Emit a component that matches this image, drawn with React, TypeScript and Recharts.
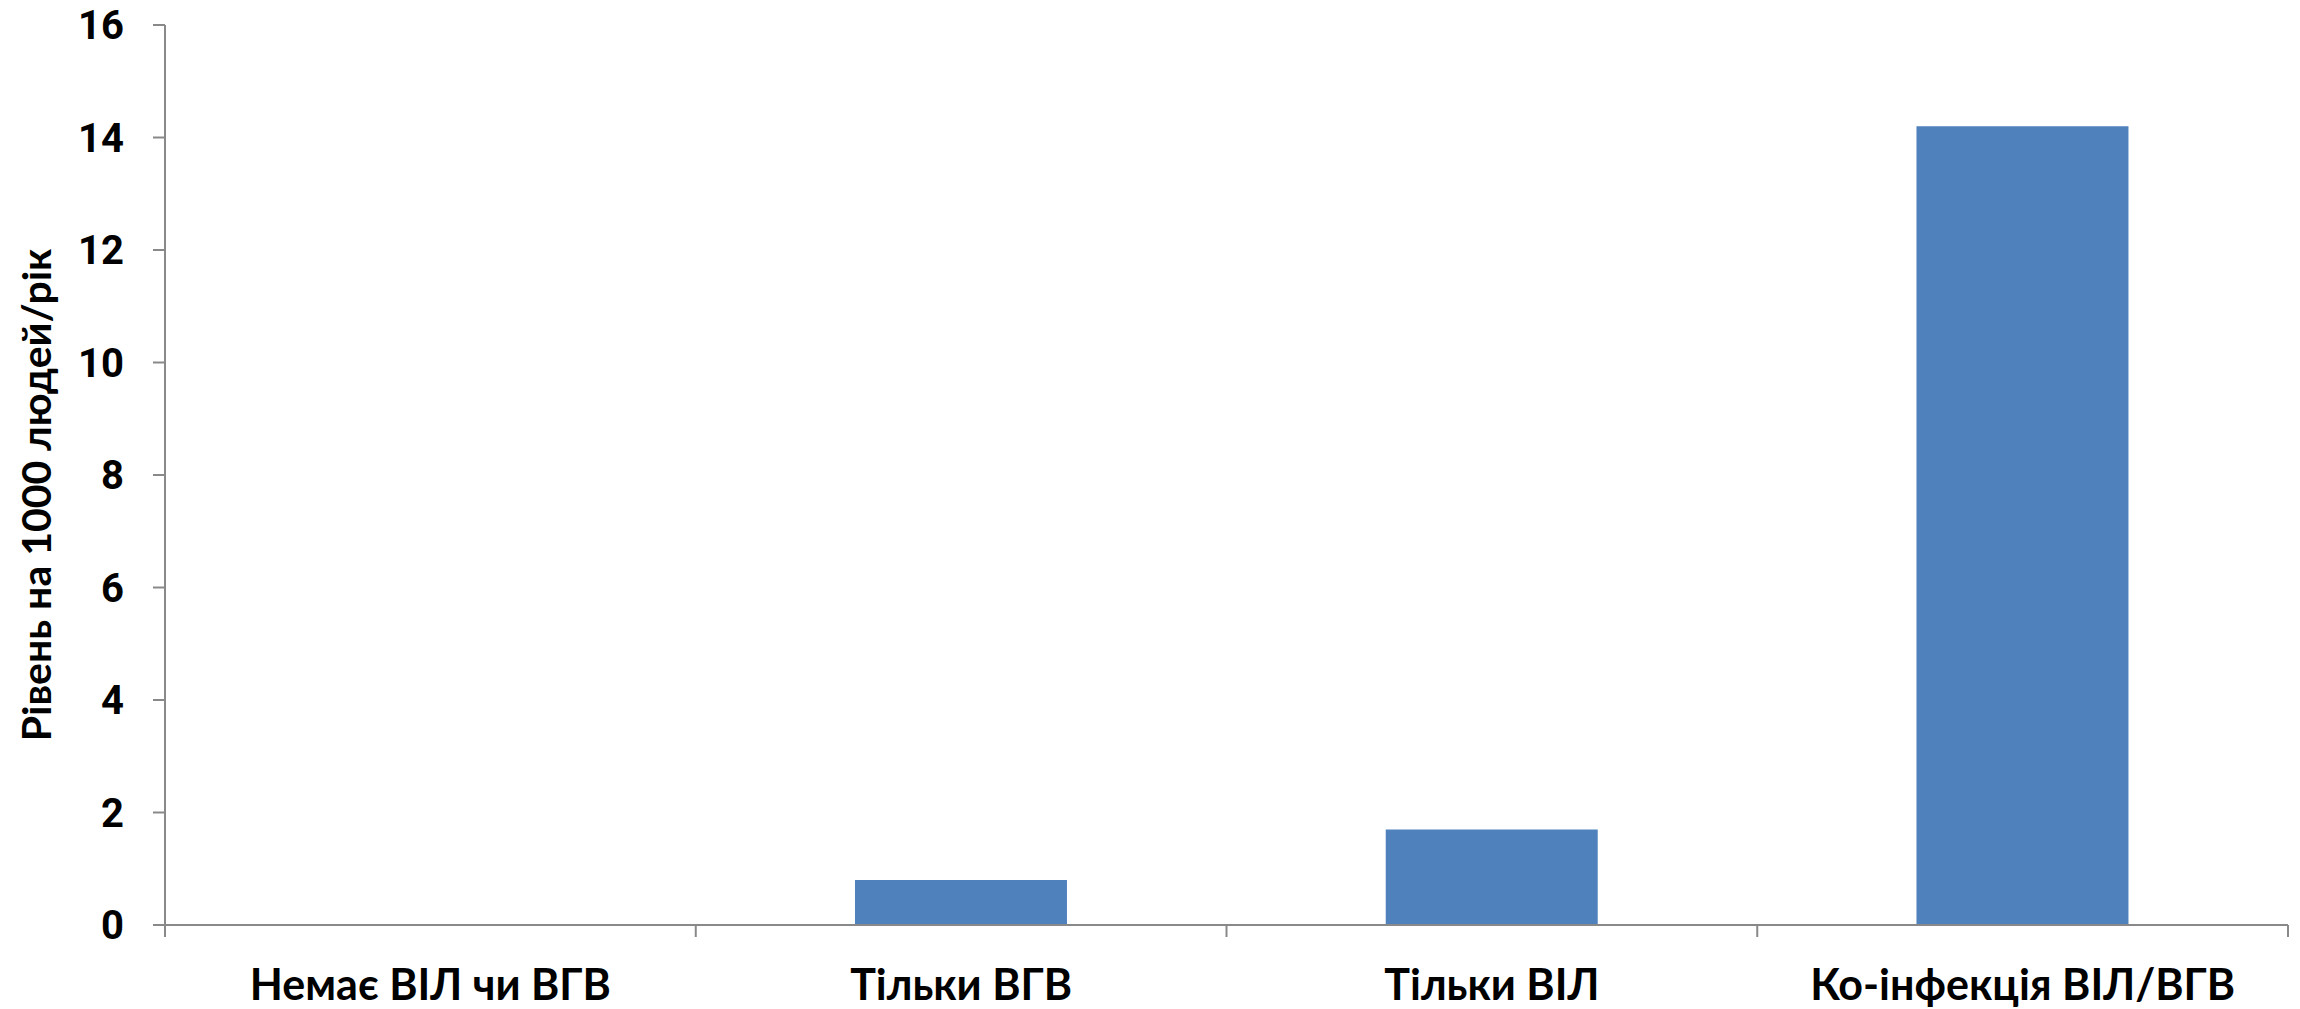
import React from 'react';
import { BarChart, Bar, XAxis, YAxis } from 'recharts';

// Incidence per 1000 people per year by infection group
const groups = ['Немає ВІЛ чи ВГВ', 'Тільки ВГВ', 'Тільки ВІЛ', 'Ко-інфекція ВІЛ/ВГВ'];
const rates = [0, 0.8, 1.7, 14.2];
const yTicks = [0, 2, 4, 6, 8, 10, 12, 14, 16];
const yTitle = 'Рівень на 1000 людей/рік';

const chartData = groups.map((name, i) => ({ name, rate: rates[i] }));

const AXIS_COLOR = '#898989';
const LABEL_FONT = 'Lato, "Open Sans", sans-serif';
const TICK_LEN = 12;

function YTitle({ viewBox }: any) {
  const cy = viewBox.y + viewBox.height / 2 + 20;
  const x = 51;
  return (
    <text
      x={x}
      y={cy}
      transform={`rotate(-90, ${x}, ${cy})`}
      textAnchor="middle"
      fontFamily={LABEL_FONT}
      fontWeight={700}
      fontSize={41}
      fill="#000"
    >
      {yTitle}
    </text>
  );
}

// Category label plus tick marks on the band edges (Excel style)
function CategoryTick(props: any) {
  const { x, y, payload, index, visibleTicksCount } = props;
  const half = payload.offset ?? 0;
  const last = index === visibleTicksCount - 1;
  return (
    <g>
      <line x1={x - half} x2={x - half} y1={y} y2={y + TICK_LEN} stroke={AXIS_COLOR} strokeWidth={2} />
      {last && (
        <line x1={x + half} x2={x + half} y1={y} y2={y + TICK_LEN} stroke={AXIS_COLOR} strokeWidth={2} />
      )}
      <text
        x={x}
        y={y + 44}
        dy="0.71em"
        textAnchor="middle"
        fontFamily={LABEL_FONT}
        fontWeight={700}
        fontSize={43}
        fill="#000"
      >
        {payload.value}
      </text>
    </g>
  );
}

export default function App() {
  return (
    <div style={{ position: 'absolute', left: 0, top: 0, background: '#fff' }}>
      <BarChart
        width={2300}
        height={1009}
        data={chartData}
        margin={{ top: 25, right: 12, left: 0, bottom: 0 }}
        barCategoryGap="30%"
      >
        <XAxis
          dataKey="name"
          height={84}
          interval={0}
          stroke={AXIS_COLOR}
          strokeWidth={2}
          tickSize={0}
          tickMargin={0}
          tickLine={false}
          tick={<CategoryTick />}
        />
        <YAxis
          width={165}
          domain={[0, 16]}
          ticks={yTicks}
          interval={0}
          stroke={AXIS_COLOR}
          strokeWidth={2}
          tickSize={12}
          tickMargin={29}
          tick={{ fill: '#000', fontFamily: 'Roboto, sans-serif', fontWeight: 700, fontSize: 40 }}
          tickLine={{ stroke: AXIS_COLOR, strokeWidth: 2 }}
          label={<YTitle />}
        />
        <Bar dataKey="rate" fill="#4F81BD" isAnimationActive={false} />
      </BarChart>
    </div>
  );
}
